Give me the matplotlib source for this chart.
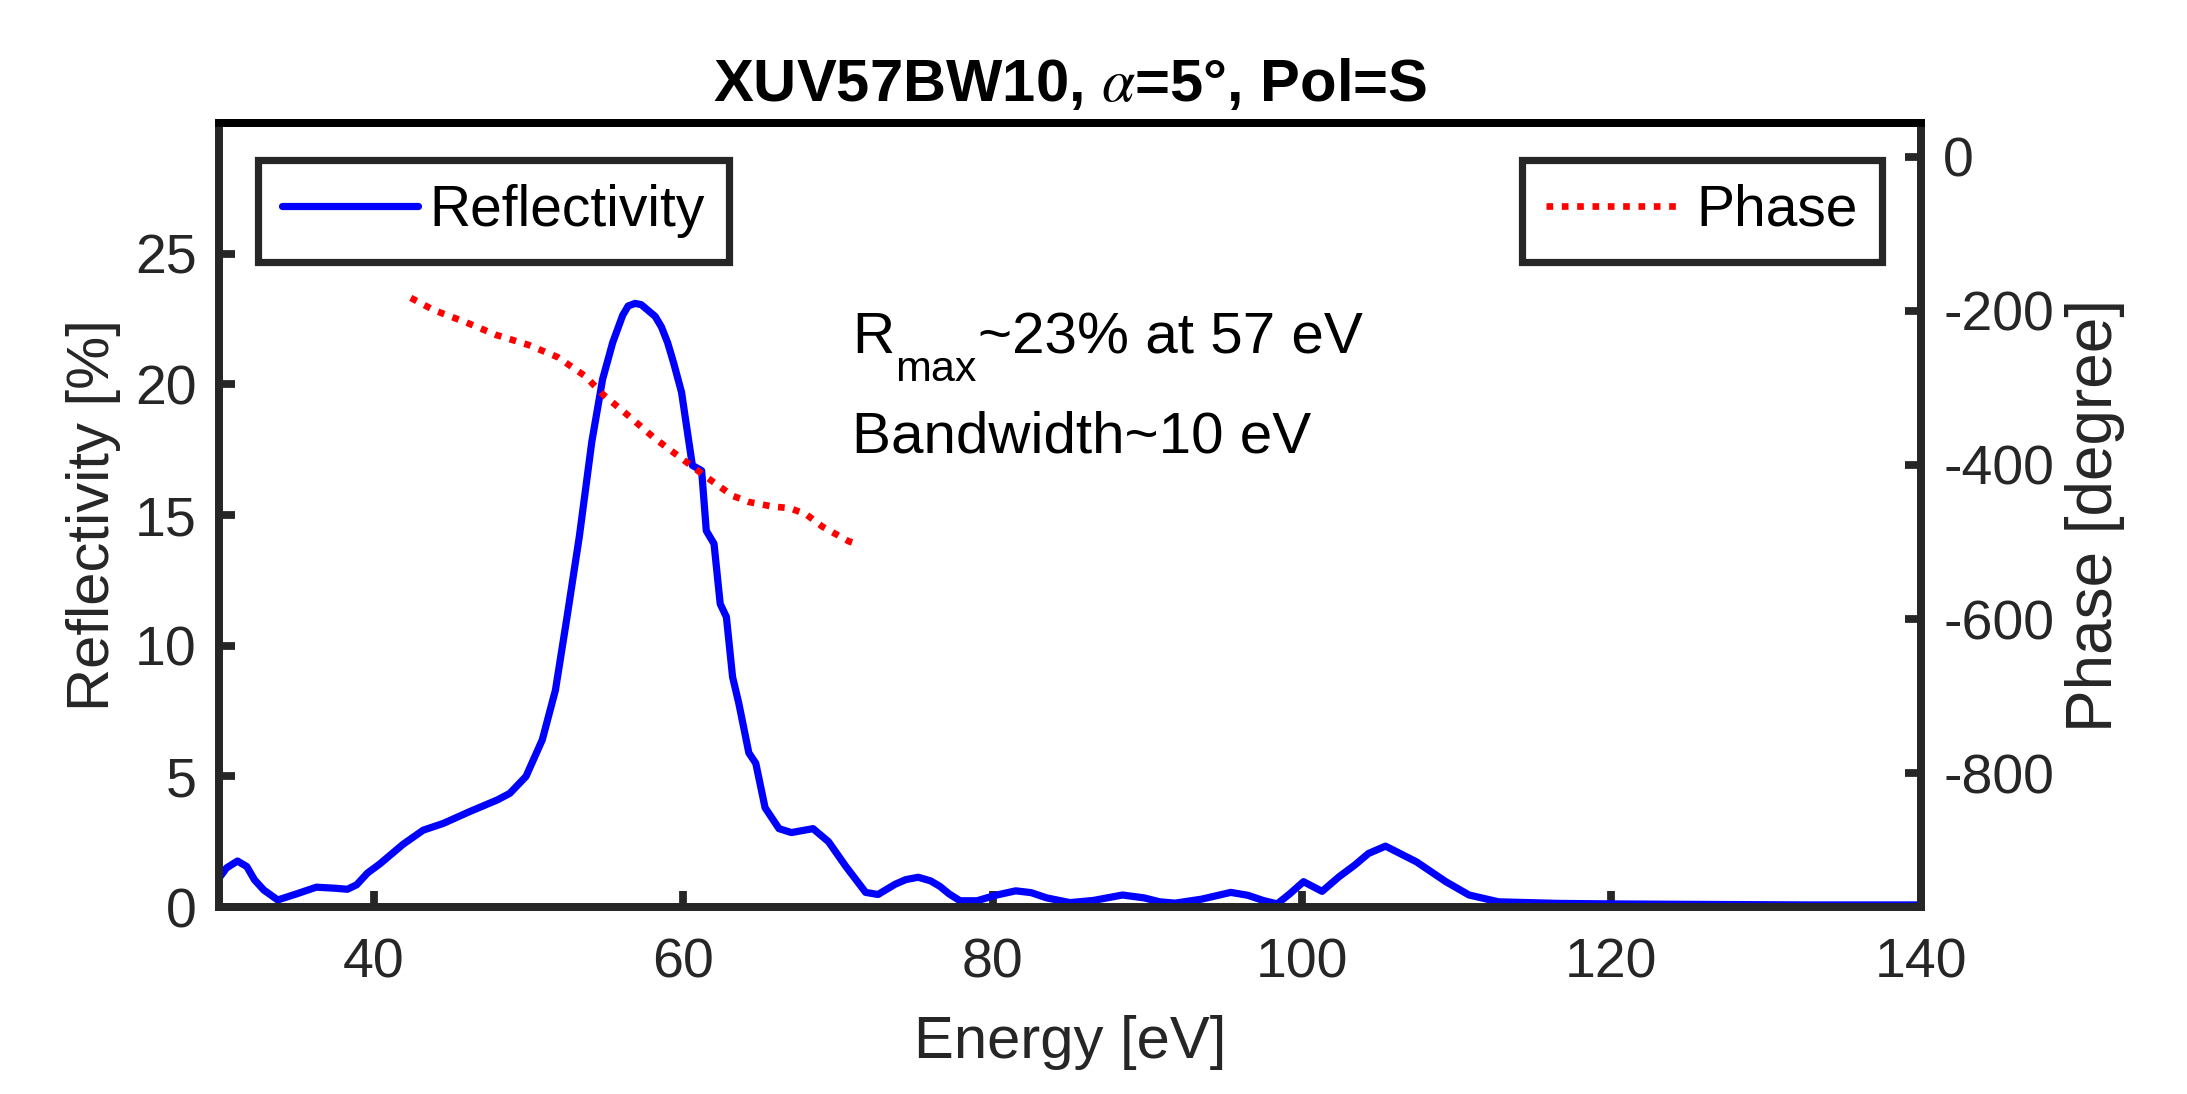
import matplotlib
matplotlib.use("Agg")
import matplotlib.pyplot as plt

plt.rcParams['font.family'] = ['Liberation Sans', 'DejaVu Sans']
plt.rcParams['mathtext.fontset'] = 'stix'
plt.rcParams['axes.unicode_minus'] = False

# reflectivity curve
energy = [30.0, 30.5, 31.2, 31.8, 32.3, 32.9, 33.8, 35.0, 36.3, 37.5, 38.3, 38.9,
          39.6, 40.4, 41.9, 43.2, 44.5, 46.2, 48.0, 48.8, 49.85, 50.9, 51.75,
          52.5, 53.3, 53.7, 54.1, 54.8, 55.45, 56.1, 56.45, 56.9, 57.3, 57.8,
          58.2, 58.6, 59.0, 59.4, 59.9, 60.3, 60.6, 61.2, 61.5, 62.0, 62.4,
          62.8, 63.2, 63.6, 64.25, 64.7, 65.3, 66.2, 67.0, 68.4, 69.4, 70.5,
          71.8, 72.6, 73.7, 74.4, 75.2, 76.0, 76.6, 77.2, 77.9, 79.0, 80.2,
          81.5, 82.5, 83.5, 85.0, 86.5, 88.4, 89.8, 90.8, 91.8, 93.5, 95.4,
          96.5, 97.5, 98.4, 99.2, 100.1, 101.3, 102.4, 103.4, 104.3, 105.4,
          107.4, 109.3, 110.8, 112.7, 116.5, 120.0, 126.0, 133.0, 140.0]
reflectivity = [1.1, 1.5, 1.76, 1.55, 1.04, 0.65, 0.27, 0.5, 0.76, 0.72, 0.68, 0.85,
                1.3, 1.65, 2.4, 2.94, 3.2, 3.65, 4.1, 4.35, 5.0, 6.4, 8.3,
                11.1, 14.2, 16.0, 17.8, 20.2, 21.6, 22.65, 23.0, 23.1, 23.05, 22.8,
                22.6, 22.2, 21.6, 20.8, 19.7, 18.1, 16.9, 16.7, 14.4, 13.9, 11.6,
                11.1, 8.8, 7.8, 5.9, 5.5, 3.8, 3.0, 2.85, 3.0, 2.5, 1.57,
                0.56, 0.48, 0.87, 1.05, 1.14, 1.0, 0.79, 0.5, 0.24, 0.24, 0.45,
                0.62, 0.55, 0.35, 0.17, 0.25, 0.46, 0.35, 0.2, 0.15, 0.3, 0.56,
                0.45, 0.25, 0.12, 0.5, 0.97, 0.6, 1.16, 1.6, 2.05, 2.33,
                1.73, 0.97, 0.46, 0.2, 0.14, 0.12, 0.1, 0.08, 0.08]

# phase curve (right axis)
phase_energy = [42.4, 43.9, 46.0, 47.9, 50.0, 51.9, 53.7, 54.8, 56.35, 58.2,
                60.0, 61.6, 63.2, 64.25, 65.8, 66.9, 67.95, 69.0, 70.7, 71.0]
phase = [-183, -199, -215, -231, -244, -260, -285, -308, -334, -366,
         -393, -417, -440, -448, -454, -456, -464, -480, -499, -501]

xticks = [40, 60, 80, 100, 120, 140]
yticks_left = [0, 5, 10, 15, 20, 25]
yticks_right = [-800, -600, -400, -200, 0]

title = r'XUV57BW10, $\alpha$=5°, Pol=S'
gray = '#262626'
fs = 20

fig = plt.figure(figsize=(10.935, 5.47), dpi=200)
ax = fig.add_axes([0.1001, 0.1709, 0.7782, 0.7166])
ax2 = ax.twinx()

l1, = ax.plot(energy, reflectivity, color=(0, 0, 1), lw=2.6,
              solid_joinstyle='round', solid_capstyle='round', label='Reflectivity')
l2, = ax2.plot(phase_energy, phase, color=(1, 0, 0), lw=2.4,
               linestyle=(0, (1, 1.3)), dash_capstyle='butt', label='Phase')

ax.set_xlim(30, 140)
ax.set_ylim(0, 30)
ax2.set_ylim(-974, 44)
ax.set_xticks(xticks)
ax.set_yticks(yticks_left)
ax2.set_yticks(yticks_right)

for a in (ax, ax2):
    for s in a.spines.values():
        s.set_linewidth(2.8)
        s.set_color(gray)
    a.spines['top'].set_color('black')
    a.tick_params(direction='in', length=5.8, width=2.8, color=gray,
                  labelcolor=gray, labelsize=fs)
ax.tick_params(axis='x', pad=11)
ax.tick_params(axis='y', pad=8)
ax2.tick_params(axis='y', pad=8)

ax.set_xlabel('Energy [eV]', fontsize=21.5, color=gray, labelpad=9)
ax.set_ylabel('Reflectivity [%]', fontsize=21.5, color=gray, labelpad=5)
ax2.set_ylabel('Phase [degree]', fontsize=23, color=gray, labelpad=4)
ax.set_title(title, fontsize=21.5, fontweight='bold', pad=8)

# R_max note, subscript placed by hand like the original
t1 = ax.text(70.95, 21.2, 'R', fontsize=21, va='baseline')
t2 = ax.annotate('max', xy=(1, 0), xycoords=t1, xytext=(0.3, -9),
                 textcoords='offset points', fontsize=15.5, va='bottom')
ax.annotate('~23% at 57 eV', xy=(1, 0), xycoords=t2, xytext=(0.3, 9),
            textcoords='offset points', fontsize=21, va='bottom')
ax.text(70.95, 17.4, 'Bandwidth~10 eV', fontsize=21, va='baseline')

leg1 = ax.legend(handles=[l1], loc='upper left', bbox_to_anchor=(0.0229, 0.953),
                 borderaxespad=0, fontsize=20.5, fancybox=False, framealpha=1,
                 edgecolor=gray, handlelength=2.4, handletextpad=0.2,
                 borderpad=0.42)
leg1.get_frame().set_linewidth(2.6)
leg2 = ax2.legend(handles=[l2], loc='upper right', bbox_to_anchor=(0.977, 0.953),
                  borderaxespad=0, fontsize=20.5, fancybox=False, framealpha=1,
                  edgecolor=gray, handlelength=2.4, handletextpad=0.25,
                  borderpad=0.42)
leg2.get_frame().set_linewidth(2.6)

fig.savefig('out.png', dpi=200)
